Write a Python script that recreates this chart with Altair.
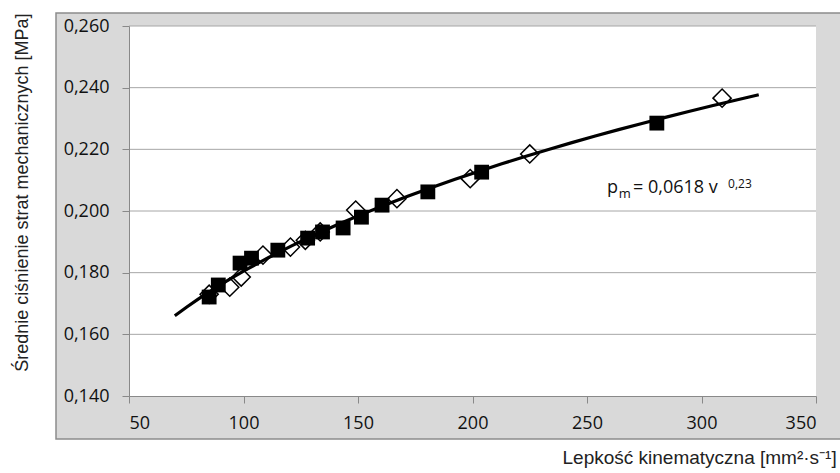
import altair as alt
import pandas as pd

# --- data ---
sq_x = [85, 89, 98.5, 103.5, 115, 128, 134.5, 143.5, 151.5, 160.5, 180.5, 204, 280.5]
sq_y = [0.1721, 0.1760, 0.1831, 0.1847, 0.1873, 0.1912, 0.1932, 0.1945, 0.1980, 0.2019, 0.2062, 0.2126, 0.2285]
dm_x = [85, 94, 99, 108.5, 120.5, 127, 133.5, 149, 167, 199, 225, 309]
dm_y = [0.1730, 0.1753, 0.1786, 0.1857, 0.1883, 0.1905, 0.1932, 0.2003, 0.2040, 0.2105, 0.2185, 0.2366]
grid_vals = [0.16, 0.18, 0.20, 0.22, 0.24, 0.26]
x_ticks = [50, 100, 150, 200, 250, 300, 350]
fit_extent = [70, 325]
eq_parts = ["p", "m", "= 0,0618 v", "0,23"]
eq_x = [258.7, 263.9, 270.1, 311.6]
eq_y = [0.2058, 0.2042, 0.2058, 0.2075]
eq_size = [18, 13, 18, 12]

W, H = 687, 370
FONT = "Open Sans"
TFONT = "Liberation Sans"

df = pd.DataFrame({
    "v": sq_x + dm_x,
    "p": sq_y + dm_y,
    "s": ["sq"] * len(sq_x) + ["dm"] * len(dm_x),
})
grid_df = pd.DataFrame({"g": grid_vals})
eq_df = pd.DataFrame({"t": eq_parts, "x": eq_x, "y": eq_y, "size": eq_size})

x_scale = alt.Scale(domain=[50, 350], nice=False, zero=False)
y_scale = alt.Scale(domain=[0.14, 0.26], nice=False, zero=False)

x_axis = alt.Axis(
    values=x_ticks, grid=False, zindex=1,
    domainColor="#898989", tickColor="#898989", tickSize=7, domainWidth=1,
    labelFont=FONT, labelFontSize=18, labelColor="#111", labelPadding=11,
    title="Lepkość kinematyczna [mm²·s⁻¹]", titleFont=TFONT, titleFontSize=19,
    titleFontWeight="normal", titleColor="#222",
    titleX=433, titleY=67, titleAlign="left", titleBaseline="alphabetic",
)
y_axis = alt.Axis(
    values=[0.14] + grid_vals, grid=False, zindex=1,
    domainColor="#898989", tickColor="#898989", tickSize=7, domainWidth=1,
    labelFont=FONT, labelFontSize=18, labelColor="#111", labelPadding=13,
    labelExpr="replace(format(datum.value, '.3f'), '.', ',')",
    title="Średnie ciśnienie strat mechanicznych [MPa]", titleFont=TFONT,
    titleFontSize=18, titleFontWeight="normal", titleColor="#222",
    titleAngle=270, titleX=-102, titleY=-13, titleAlign="right",
    titleBaseline="alphabetic",
)

X = alt.X("v:Q", scale=x_scale, axis=x_axis)
Y = alt.Y("p:Q", scale=y_scale, axis=y_axis)

bg = alt.Chart(grid_df).mark_rect(
    fill="#d9d9d9", stroke="#8c8c8c", strokeWidth=1.5
).encode(
    x=alt.value(-73), x2=alt.value(W + 40), y=alt.value(-13), y2=alt.value(H + 43)
).transform_filter("datum.g == 0.26")

plot_bg = alt.Chart(grid_df).mark_rect(fill="white").encode(
    x=alt.value(0), x2=alt.value(W), y=alt.value(0), y2=alt.value(H)
).transform_filter("datum.g == 0.26")

grid = alt.Chart(grid_df).mark_rule(color="#a6a6a6", strokeWidth=1).encode(
    y=alt.Y("g:Q", scale=y_scale, axis=y_axis)
)

diamonds = alt.Chart(df).transform_filter("datum.s == 'dm'").mark_point(
    shape="diamond", filled=True, fill="white", stroke="black",
    strokeWidth=1.5, size=330, opacity=1
).encode(x=X, y=Y)

squares = alt.Chart(df).transform_filter("datum.s == 'sq'").mark_square(
    color="black", size=220, opacity=1
).encode(x=X, y=Y)

fit = alt.Chart(df).transform_regression(
    "v", "p", method="pow", extent=fit_extent
).mark_line(color="black", strokeWidth=3.2).encode(x=X, y=Y)

eq = alt.Chart(eq_df).mark_text(
    font=FONT, align="left", baseline="alphabetic", color="#111"
).encode(
    x=alt.X("x:Q", scale=x_scale, axis=x_axis),
    y=alt.Y("y:Q", scale=y_scale, axis=y_axis),
    text="t:N",
    size=alt.Size("size:Q", scale=None, legend=None),
)

chart = alt.layer(bg, plot_bg, grid, diamonds, squares, fit, eq).properties(
    width=W, height=H,
    autosize=alt.AutoSizeParams(type="none"),
    padding={"left": 129, "top": 26, "right": 24, "bottom": 77},
    background="white",
).configure_view(stroke=None, fill=None)

chart.save("out.html", embed_options={"renderer": "svg", "actions": False})
